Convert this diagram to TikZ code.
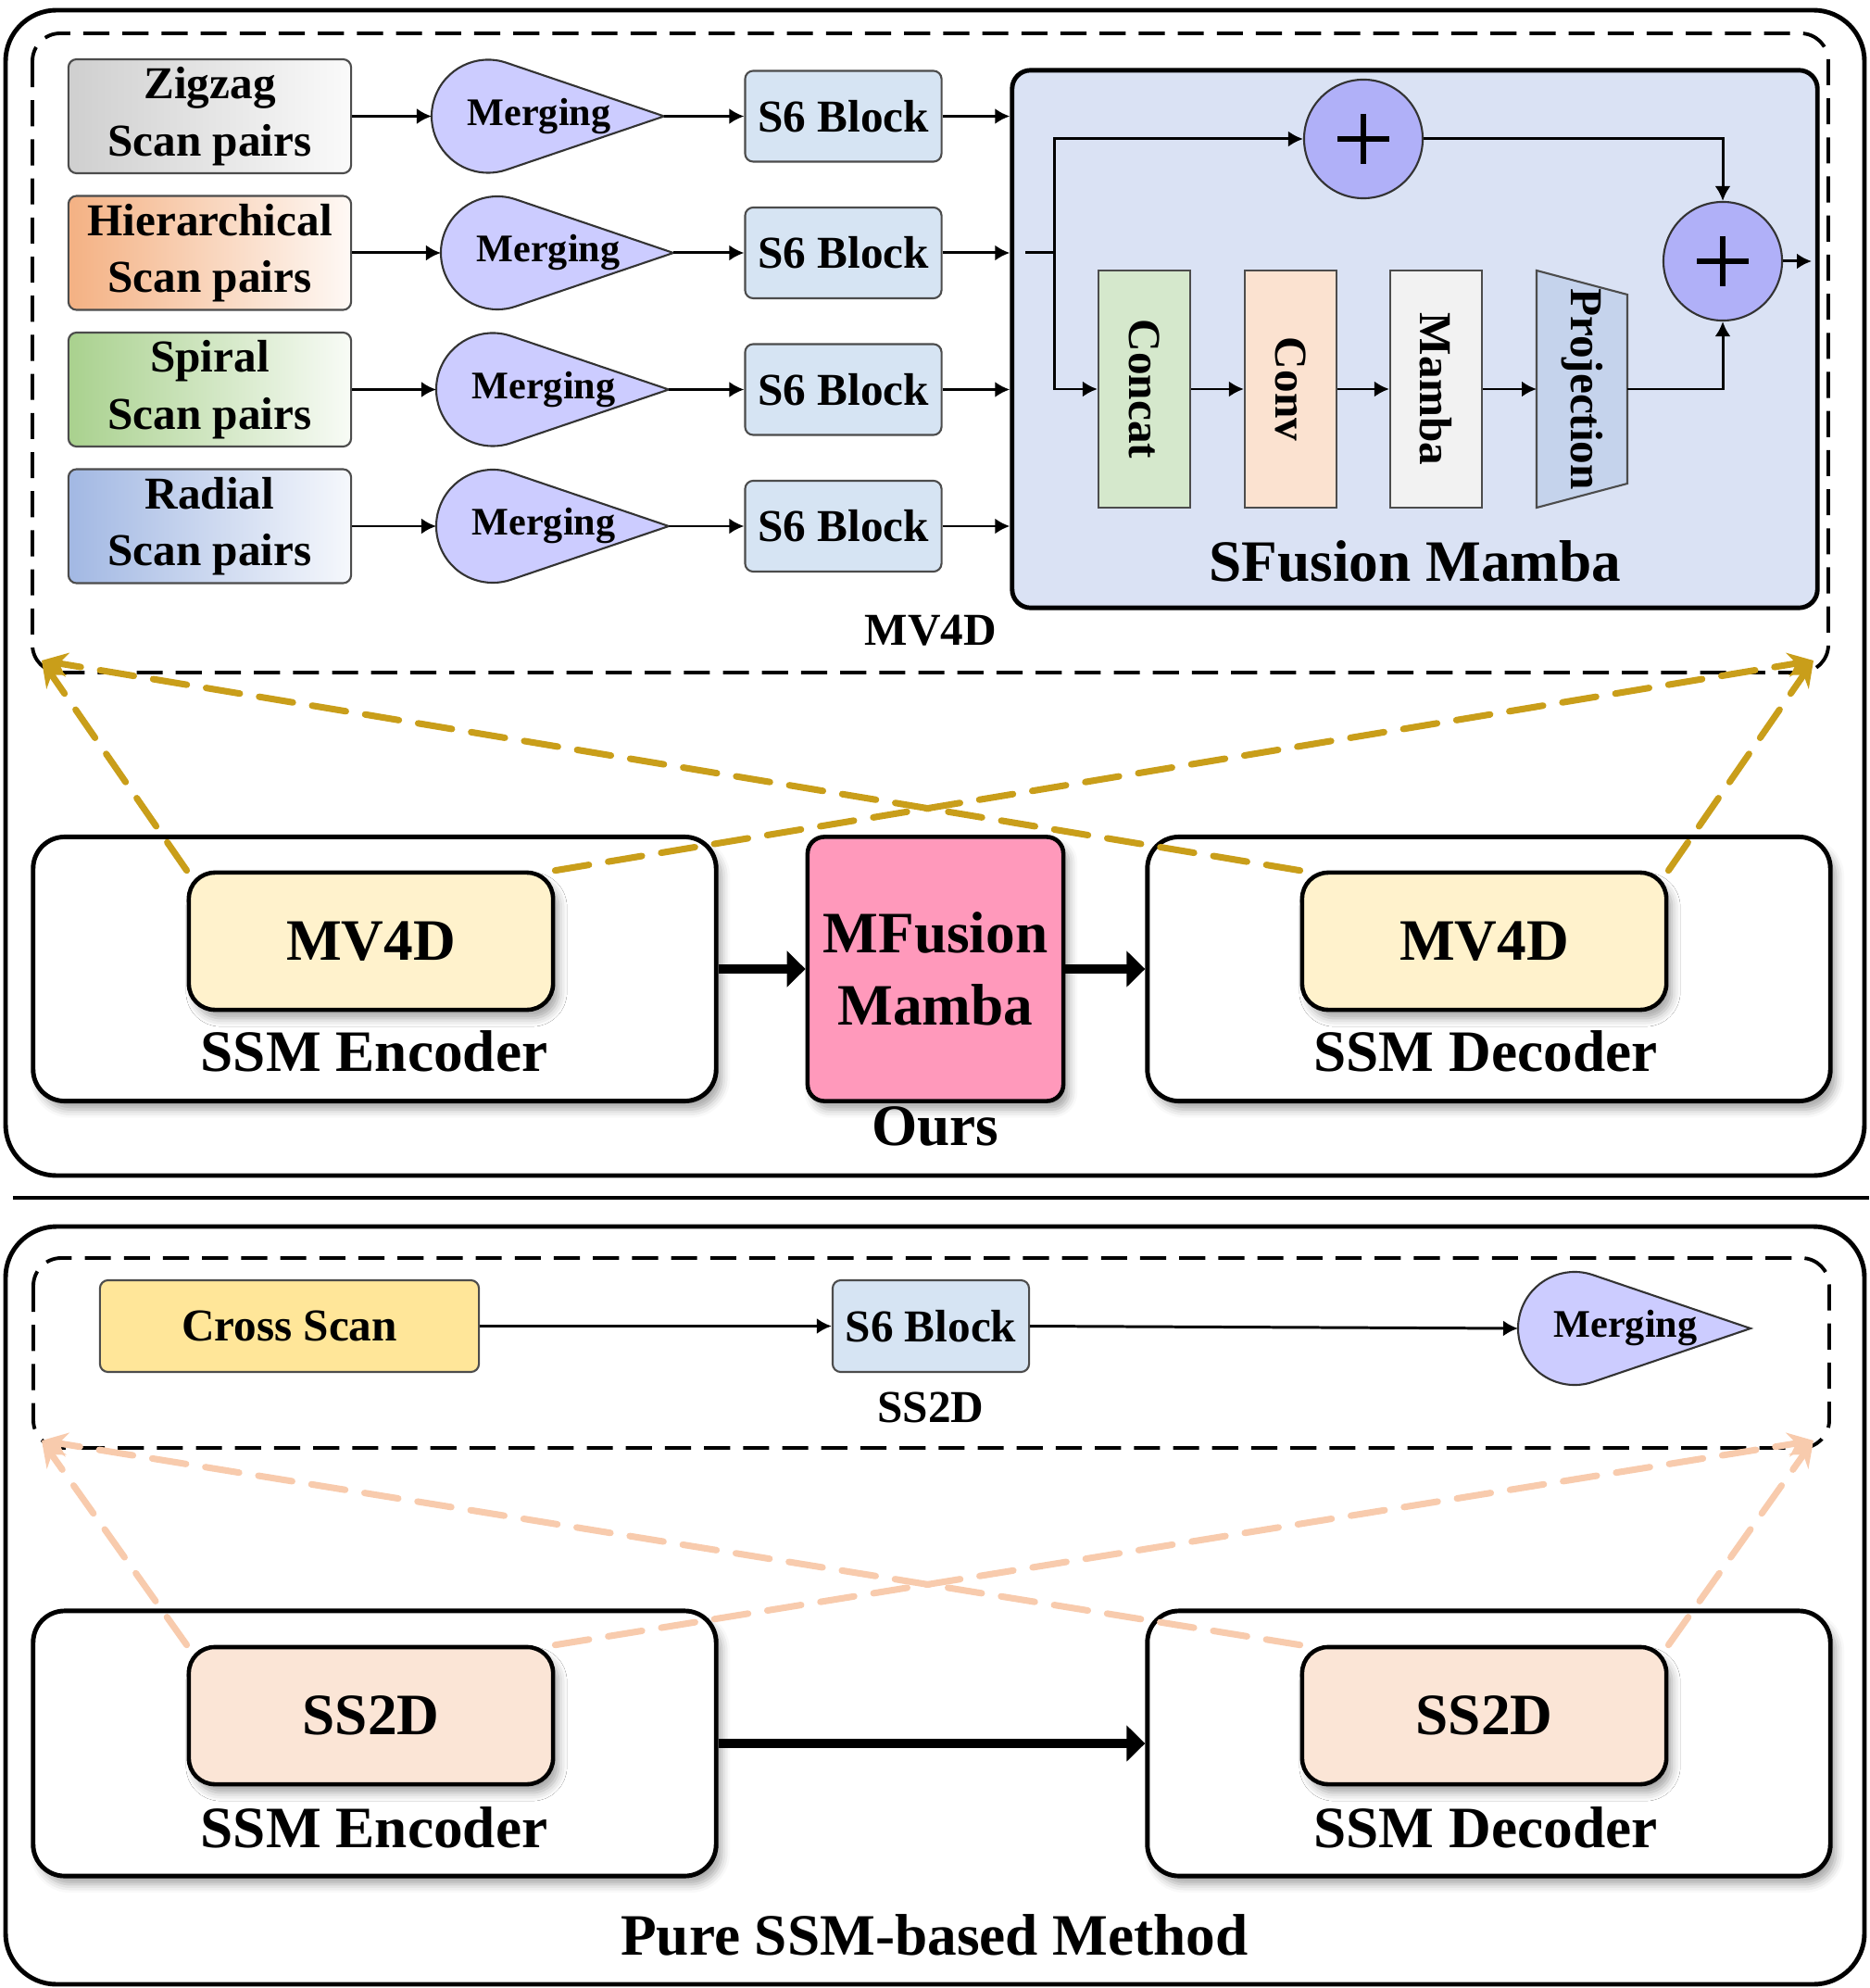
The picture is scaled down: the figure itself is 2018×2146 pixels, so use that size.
\documentclass[tikz,border=0pt]{standalone}
\usepackage{fontspec}
\setmainfont{Liberation Serif}
\usepackage{graphicx}
\usetikzlibrary{arrows.meta,shadows.blur}

\definecolor{zzgray}{HTML}{CFCFCF}
\definecolor{hierorange}{HTML}{F4B183}
\definecolor{spiralgreen}{HTML}{A9D18E}
\definecolor{radialblue}{HTML}{A2B8E3}
\definecolor{s6blue}{HTML}{D6E4F3}
\definecolor{dropviolet}{HTML}{CCCCFF}
\definecolor{sfblue}{HTML}{DAE2F4}
\definecolor{plusviolet}{HTML}{B0B0F8}
\definecolor{concatgreen}{HTML}{D5E8CC}
\definecolor{convpeach}{HTML}{FBE2D0}
\definecolor{mambagray}{HTML}{F2F2F2}
\definecolor{projblue}{HTML}{C5D3EC}
\definecolor{mvyellow}{HTML}{FFF2CC}
\definecolor{mfpink}{HTML}{FF99BB}
\definecolor{sspeach}{HTML}{FBE5D6}
\definecolor{crossyellow}{HTML}{FFE699}
\definecolor{goldline}{HTML}{C99E1A}
\definecolor{peachline}{HTML}{F8CBAD}

% teardrop "Merging": name, left x, centre y
\newcommand{\mergedrop}[3]{%
  \draw[dropbox] (#2+251,#3) -- (#2+80.6,#3-57.8)
    arc[start angle=71.3, end angle=288.7, radius=0.61cm] -- cycle;
  \coordinate (#1-in) at (#2,#3);
  \coordinate (#1-out) at (#2+251,#3);
  \node[droplabel] (#1) at (#2+116,#3) {Merging};
}

\begin{document}
\begin{tikzpicture}[
    x=0.01cm, y=-0.01cm,
    font=\bfseries,
    mid/.style={font=\fontsize{14}{16}\selectfont\bfseries},
    big/.style={font=\fontsize{18}{22}\selectfont\bfseries},
    scanbox/.style={font=\fontsize{14}{17.5}\selectfont\bfseries, draw=black!70,
      line width=0.6pt, rounded corners=2.5pt, minimum width=3.05cm,
      minimum height=1.23cm, align=center, inner sep=0pt},
    sbox/.style={mid, draw=black!70, fill=s6blue, line width=0.6pt, rounded corners=2.5pt,
      minimum width=2.12cm, minimum height=0.98cm, inner sep=0pt},
    dropbox/.style={draw=black!80, fill=dropviolet, line width=0.6pt},
    droplabel/.style={font=\fontsize{12}{14}\selectfont\bfseries, inner sep=0pt},
    vbox/.style={mid, draw=black!70, line width=0.6pt,
      minimum width=0.99cm, minimum height=2.56cm, inner sep=0pt},
    plusnode/.style={circle, draw=black!80, fill=plusviolet, line width=0.6pt,
      minimum size=1.28cm, inner sep=0pt},
    plusbar/.style={line width=1.8pt},
    thin/.style={line width=0.85pt},
    thinarrow/.style={line width=0.85pt, -{Latex[length=1.6mm, width=1.7mm]}},
    thickarrow/.style={line width=2.8pt, -{Triangle[length=2mm, width=3.8mm]}},
    frame/.style={draw=black, line width=1.4pt, rounded corners=0.55cm},
    dashframe/.style={draw=black, line width=1.1pt, rounded corners=0.3cm,
      dash pattern=on 8pt off 4pt},
    shadowed/.style={blur shadow={shadow xshift=0.6mm, shadow yshift=-0.9mm,
      shadow blur radius=0.9mm, shadow opacity=35}},
    outerbox/.style={draw=black, fill=white, line width=1.4pt, rounded corners=0.34cm,
      minimum width=7.37cm, minimum height=2.85cm, shadowed},
    innerbox/.style={big, draw=black, line width=1.3pt, rounded corners=0.28cm,
      minimum width=3.93cm, minimum height=1.48cm, shadowed},
    golddash/.style={draw=goldline, line width=2pt, line cap=round,
      dash pattern=on 10.5pt off 6pt, -{Stealth[length=2.8mm, width=2.6mm]}},
    peachdash/.style={draw=peachline, line width=2pt, line cap=round,
      dash pattern=on 10.5pt off 6pt, -{Stealth[length=2.8mm, width=2.6mm]}},
  ]
  \useasboundingbox (0,0) rectangle (2018,2146);

  % ---------- upper part: ours
  \draw[frame] (6,11) rectangle (2013,1269);
  \draw[dashframe] (35,36) rectangle (1974,726);

  \node[scanbox, left color=zzgray, right color=zzgray!10] (zz) at (226.5,125.5) {Zigzag\\Scan pairs};
  \node[scanbox, left color=hierorange, right color=hierorange!8] (hi) at (226.5,273) {Hierarchical\\Scan pairs};
  \node[scanbox, left color=spiralgreen, right color=spiralgreen!8] (sp) at (226.5,420.5) {Spiral\\Scan pairs};
  \node[scanbox, left color=radialblue, right color=radialblue!10] (ra) at (226.5,568) {Radial\\Scan pairs};

  \mergedrop{mzz}{466}{125.5}
  \mergedrop{mhi}{476}{273}
  \mergedrop{msp}{471}{420.5}
  \mergedrop{mra}{471}{568}

  \node[sbox] (s6zz) at (910.5,125.5) {S6 Block};
  \node[sbox] (s6hi) at (910.5,273) {S6 Block};
  \node[sbox] (s6sp) at (910.5,420.5) {S6 Block};
  \node[sbox] (s6ra) at (910.5,568) {S6 Block};

  \node[draw=black, fill=sfblue, line width=1.4pt, rounded corners=0.2cm,
    minimum width=8.69cm, minimum height=5.8cm] (sf) at (1527.5,366) {};
  \node[big] (sflabel) at (1528,606) {SFusion Mamba};

  \foreach \r in {zz,hi,sp,ra} {
    \draw[thinarrow] (\r.east) -- (m\r-in);
    \draw[thinarrow] (m\r-out) -- (s6\r.west);
    \draw[thinarrow] (s6\r.east) -- (s6\r.east -| sf.west);
  }

  \node[plusnode] (p1) at (1472,150) {};
  \node[plusnode] (p2) at (1860,282) {};
  \foreach \p in {p1,p2} {
    \draw[plusbar] (\p.center) ++(-0.28cm,0) -- ++(0.56cm,0);
    \draw[plusbar] (\p.center) ++(0,0.27cm) -- ++(0,-0.54cm);
  }

  \node[vbox, fill=concatgreen] (cc) at (1235.5,420) {\rotatebox{-90}{Concat}};
  \node[vbox, fill=convpeach] (cv) at (1393.5,420) {\rotatebox{-90}{Conv}};
  \node[vbox, fill=mambagray] (mb) at (1550.5,420) {\rotatebox{-90}{Mamba}};
  \draw[draw=black!70, fill=projblue, line width=0.6pt]
    (1659,292) -- (1757,318) -- (1757,522) -- (1659,548) -- cycle;
  \node[mid] (pj) at (1708,420) {\rotatebox{-90}{Projection}};
  \coordinate (pj-in) at (1659,420);
  \coordinate (pj-out) at (1757,420);

  \coordinate (jin) at (1107,273);
  \coordinate (jct) at (1138,273);
  \coordinate (sfout) at (1956,282);
  \draw[thin] (jin) -- (jct);
  \draw[thinarrow] (jct) |- (p1.west);
  \draw[thinarrow] (jct) |- (cc.west);
  \draw[thinarrow] (cc.east) -- (cv.west);
  \draw[thinarrow] (cv.east) -- (mb.west);
  \draw[thinarrow] (mb.east) -- (pj-in);
  \draw[thinarrow] (p1.east) -| (p2.north);
  \draw[thinarrow] (pj-out) -| (p2.south);
  \draw[thinarrow] (p2.east) -- (sfout);

  \node[mid] (mvlabel) at (1005,681) {MV4D};

  \node[outerbox] (enc) at (404.5,1046) {};
  \node[innerbox, fill=mvyellow] (mv1) at (400.5,1016) {MV4D};
  \node[big] (enclabel) at (404,1135) {SSM Encoder};
  \node[outerbox] (dec) at (1607.5,1046) {};
  \node[innerbox, fill=mvyellow] (mv2) at (1602.5,1016) {MV4D};
  \node[big] (declabel) at (1604,1135) {SSM Decoder};
  \node[big, draw=black, fill=mfpink, line width=1.3pt, rounded corners=0.18cm,
    minimum width=2.76cm, minimum height=2.85cm, align=center, shadowed] (mf) at (1010,1046) {MFusion\\Mamba};
  \node[big] (ours) at (1010,1216) {Ours};

  \draw[thickarrow] (enc.east) -- (mf.west);
  \draw[thickarrow] (mf.east) -- (dec.west);

  \coordinate (tl1) at (45,713);
  \coordinate (tr1) at (1958,713);
  \draw[golddash] (mv1.north west) -- (tl1);
  \draw[golddash] (mv1.north east) -- (tr1);
  \draw[golddash] (mv2.north west) -- (tl1);
  \draw[golddash] (mv2.north east) -- (tr1);

  \draw[line width=1.2pt] (14,1293) -- (2018,1293);

  % ---------- lower part: pure SSM
  \draw[frame] (6,1324) rectangle (2013,2142);
  \draw[dashframe] (36,1358) rectangle (1975,1563);

  \node[mid, draw=black!70, fill=crossyellow, line width=0.6pt, rounded corners=2.5pt,
    minimum width=4.09cm, minimum height=0.99cm] (cs) at (312.5,1431.5) {Cross Scan};
  \node[sbox, minimum height=0.99cm] (s6b) at (1005,1431.5) {S6 Block};
  \mergedrop{mb2}{1639}{1434}
  \draw[thinarrow] (cs.east) -- (s6b.west);
  \draw[thinarrow] (s6b.east) -- (mb2-in);
  \node[mid] (sslabel) at (1005,1519) {SS2D};

  \node[outerbox, minimum height=2.86cm] (enc2) at (404.5,1882) {};
  \node[innerbox, fill=sspeach] (ss1) at (400.5,1852) {SS2D};
  \node[big] (enc2label) at (404,1973) {SSM Encoder};
  \node[outerbox, minimum height=2.86cm] (dec2) at (1607.5,1882) {};
  \node[innerbox, fill=sspeach] (ss2) at (1602.5,1852) {SS2D};
  \node[big] (dec2label) at (1604,1973) {SSM Decoder};
  \draw[thickarrow] (enc2.east) -- (dec2.west);
  \node[big] (pure) at (1009,2089) {Pure SSM-based Method};

  \coordinate (tl2) at (45,1555);
  \coordinate (tr2) at (1958,1555);
  \draw[peachdash] (ss1.north west) -- (tl2);
  \draw[peachdash] (ss1.north east) -- (tr2);
  \draw[peachdash] (ss2.north west) -- (tl2);
  \draw[peachdash] (ss2.north east) -- (tr2);
\end{tikzpicture}
\end{document}
